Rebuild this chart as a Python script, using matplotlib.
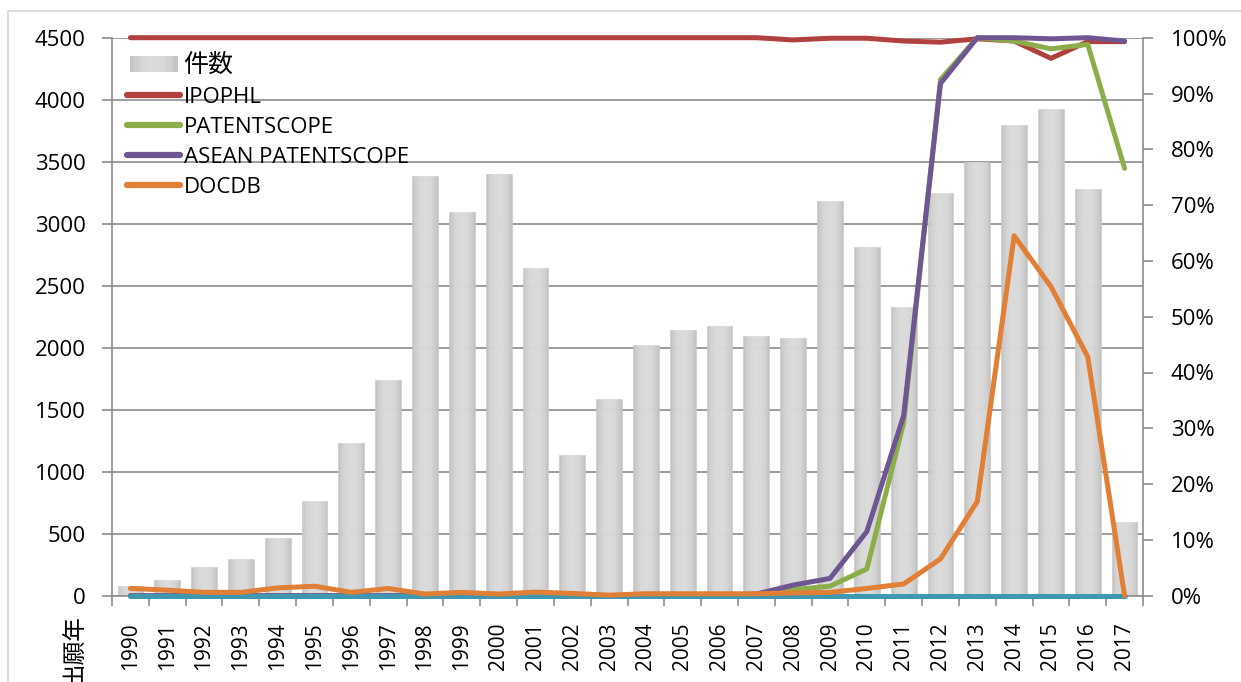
import matplotlib
matplotlib.use("Agg")
import matplotlib.pyplot as plt
import numpy as np
from matplotlib.patches import Rectangle
from matplotlib.lines import Line2D
from matplotlib.legend_handler import HandlerBase

# ---------------- data ----------------
years = [str(y) for y in range(1990, 2018)]
counts = [80, 129, 233, 298, 467, 765, 1232, 1739, 3382, 3092, 3398, 2641, 1135, 1586,
          2021, 2142, 2174, 2093, 2077, 3180, 2810, 2327, 3245, 3494, 3800, 3929, 3277, 596]
ipophl = [1.0, 1.0, 1.0, 1.0, 1.0, 1.0, 1.0, 1.0, 1.0, 1.0, 1.0, 1.0, 1.0, 1.0,
          1.0, 1.0, 1.0, 1.0, 0.996, 0.999, 0.999, 0.994, 0.992, 0.998, 0.994, 0.963, 0.993, 0.993]
patentscope = [0, 0, 0, 0, 0, 0, 0, 0, 0, 0, 0, 0, 0, 0,
               0, 0, 0, 0.002, 0.011, 0.017, 0.048, 0.31, 0.925, 1.0, 0.994, 0.980, 0.988, 0.766]
asean = [0, 0, 0, 0, 0, 0, 0, 0, 0, 0, 0, 0, 0, 0,
         0, 0, 0, 0.003, 0.019, 0.031, 0.115, 0.323, 0.918, 1.0, 1.0, 0.998, 1.0, 0.994]
docdb = [0.013, 0.010, 0.006, 0.006, 0.014, 0.017, 0.006, 0.013, 0.003, 0.006, 0.003, 0.0065, 0.004, 0.001,
         0.0035, 0.0035, 0.0035, 0.0035, 0.005, 0.006, 0.013, 0.021, 0.066, 0.169, 0.645, 0.554, 0.428, 0.0]
zero_series = [0.0] * 28
left_ticks = list(range(0, 5000, 500))
right_ticks = [i / 10 for i in range(11)]
legend_labels = ["件数", "IPOPHL", "PATENTSCOPE", "ASEAN PATENTSCOPE", "DOCDB"]
xlabel_text = "出願年"

# ---------------- style ----------------
FONT = ["Open Sans", "Noto Sans CJK JP", "DejaVu Sans"]
plt.rcParams["font.family"] = FONT
GRID = "#8C8C8C"
c_red = "#B0413E"
c_green = "#8BAE4B"
c_purple = "#6F5693"
c_orange = "#E07F35"
c_teal = "#3F97B0"

W, H = 1241, 682
fig = plt.figure(figsize=(W / 100, H / 100), dpi=100)
L, R, T, B = 112, 1143, 37.7, 595.7
ax = fig.add_axes([L / W, 1 - B / H, (R - L) / W, (B - T) / H])

# outer border
fig.patches.append(Rectangle((8 / W, -0.2), 1.5, 1 - 11 / H + 0.2, transform=fig.transFigure,
                             fill=False, edgecolor="#D6D6D6", linewidth=1.2))

x = np.arange(len(years))
barw = 0.7
nstrip = 14


def grad_val(t):
    return 0.745 + 0.112 * (1 - (2 * t - 1) ** 2) ** 0.8


for i in range(nstrip):
    t = (i + 0.5) / nstrip
    v = grad_val(t)
    col = (v, v, v)
    off = -barw / 2 + (i + 0.5) * barw / nstrip
    ax.bar(x + off, counts, width=barw / nstrip, color=col, edgecolor=col, linewidth=0.4, zorder=2)

ax.set_xlim(-0.5, len(years) - 0.5)
ax.set_ylim(0, 4500)
ax.set_yticks(left_ticks)
ax.set_yticklabels([str(v) for v in left_ticks])
ax.grid(axis="y", color=GRID, linewidth=1.2, zorder=0)
ax.set_axisbelow(True)

ax.set_xticks(x)
ax.set_xticklabels(years, rotation=90, fontsize=15)
ax.set_xticks(np.arange(-0.5, len(years)), minor=True)
ax.tick_params(axis="x", which="major", length=0, pad=19)
ax.tick_params(axis="x", which="minor", length=7, width=1.2, color=GRID, direction="out")
ax.tick_params(axis="y", length=7, width=1.2, color=GRID, direction="out", labelsize=16, pad=12)

for s in ["top", "right"]:
    ax.spines[s].set_visible(False)
for s in ["left", "bottom"]:
    ax.spines[s].set_color(GRID)
    ax.spines[s].set_linewidth(1.2)

ax2 = ax.twinx()
ax2.set_ylim(0, 1)
ax2.set_yticks(right_ticks)
ax2.set_yticklabels([f"{int(round(v * 100))}%" for v in right_ticks])
ax2.tick_params(axis="y", length=7, width=1.2, color=GRID, direction="out", labelsize=16, pad=13)
for s in ["top", "left", "bottom"]:
    ax2.spines[s].set_visible(False)
ax2.spines["right"].set_color(GRID)
ax2.spines["right"].set_linewidth(1.2)

lw = 3.6
kw = dict(linewidth=lw, solid_joinstyle="round", solid_capstyle="round", clip_on=False)
ax2.plot(x, ipophl, color=c_red, zorder=3, **kw)
ax2.plot(x, patentscope, color=c_green, zorder=4, **kw)
ax2.plot(x, asean, color=c_purple, zorder=5, **kw)
ax2.plot(x, zero_series, color=c_teal, zorder=6, **kw)
ax2.plot(x, docdb, color=c_orange, zorder=7, **kw)


class GradHandle:
    pass


class HandlerGrad(HandlerBase):
    def create_artists(self, legend, orig_handle, xdescent, ydescent, width, height, fontsize, trans):
        arts = []
        n = 14
        for i in range(n):
            t = (i + 0.5) / n
            v = grad_val(t)
            r = Rectangle((-xdescent + 2 + i * (width - 4) / n, -ydescent), (width - 4) / n + 0.3, height,
                          facecolor=(v, v, v), edgecolor="none", transform=trans)
            arts.append(r)
        return arts


def mk(c):
    return Line2D([0], [0], color=c, linewidth=4.5, solid_capstyle="round")


handles = [GradHandle(), mk(c_red), mk(c_green), mk(c_purple), mk(c_orange)]
leg = ax2.legend(handles, legend_labels, handler_map={GradHandle: HandlerGrad()},
                 loc="upper left", bbox_to_anchor=(127 / W, 1 - 53 / H), bbox_transform=fig.transFigure,
                 frameon=False, fontsize=16, borderpad=0, borderaxespad=0,
                 handlelength=2.4, handletextpad=0.15, labelspacing=0.4)
for t in leg.get_texts():
    t.set_family(FONT)
leg.get_texts()[0].set_fontsize(18)

fig.text(75 / W, 1 - 614 / H, xlabel_text, rotation=90, ha="center", va="top", fontsize=17,
         family=["Noto Sans CJK JP", "DejaVu Sans"])

fig.savefig("out.png", dpi=100)
